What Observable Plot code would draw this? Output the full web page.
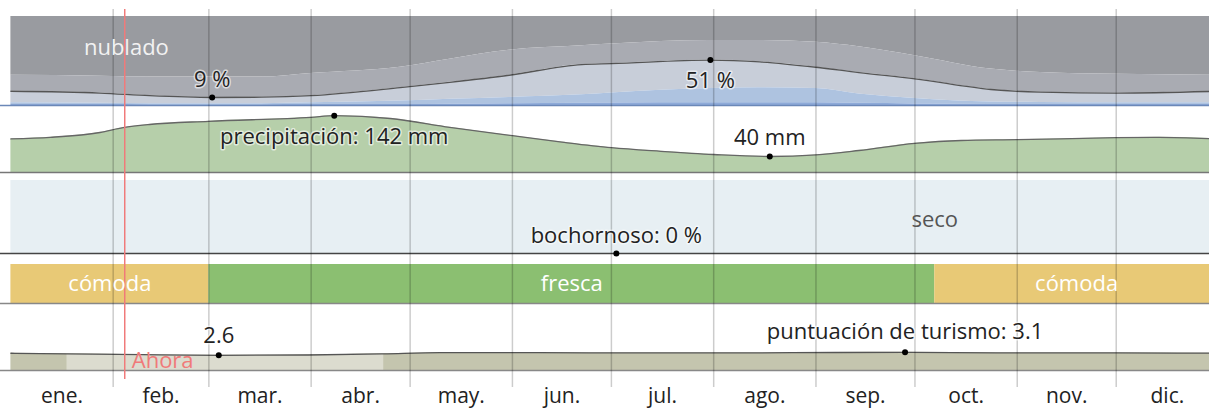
<!DOCTYPE html>
<html>
<head>
<meta charset="utf-8">
<script src="https://cdn.jsdelivr.net/npm/d3@7"></script>
<script src="https://cdn.jsdelivr.net/npm/@observablehq/plot@0.6"></script>
<style>
  html, body { margin: 0; padding: 0; background: #fff; overflow: hidden; }
  #chart svg { display: block; overflow: hidden; }
</style>
</head>
<body>
<div id="chart"></div>
<script>
// ---- month axis (leap year, day-of-year) ----
const monthLabels = ["ene.", "feb.", "mar.", "abr.", "may.", "jun.", "jul.", "ago.", "sep.", "oct.", "nov.", "dic."];
const monthStarts = [0, 31, 60, 91, 121, 152, 182, 213, 244, 274, 305, 335, 366];
const nowDay = 34.5;

// ---- cloud cover, cumulative % from bottom ----
const cloudDays      = [0, 27, 42, 61, 76, 91, 118, 133, 151, 173, 182, 212, 227, 244, 257, 274, 297, 312, 335, 366];
const clearPct       = [1, 1, 0.8, 0.8, 0.8, 1, 1.2, 1.5, 2, 2.5, 2.8, 3, 3, 3, 2.5, 1.8, 1.2, 1, 1, 1];
const mostlyClearPct = [3, 2.5, 2, 2, 2, 3, 5, 7, 9, 12, 14, 19, 20, 19, 13, 8, 4, 3.5, 3, 3];
const partlyPct      = [16, 14, 11, 9, 9.3, 11, 20, 26, 34, 46, 47, 51, 49, 43, 37, 30, 18, 15, 14, 16];
const mostlyCloudyPct= [34, 33, 32, 32, 32, 36, 43, 52, 62, 67, 69, 73, 73, 71, 66, 56, 41, 37, 35, 34];
const cloudMinDay = 61, cloudMinLabel = "9 %";
const cloudMaxDay = 212, cloudMaxLabel = "51 %";

// ---- precipitation (mm) ----
const precipDays = [0, 12, 27, 34, 42, 60, 91, 98, 115, 133, 152, 167, 182, 197, 213, 230, 244, 257, 274, 288, 305, 335, 348, 366];
const precipMm   = [84, 88, 100, 112, 120, 128, 138, 142, 135, 113, 92, 76, 62, 53, 45, 40, 44, 55, 73, 80, 82, 87, 88, 84];
const precipMaxDay = 98, precipMaxLabel = "precipitación: 142 mm";
const precipMinDay = 230, precipMinLabel = "40 mm";

// ---- humidity ----
const muggyPct = 0;
const muggyDay = 183.5, muggyLabel = "bochornoso: 0 %";
const dryLabel = "seco", dryDay = 280;

// ---- comfort ----
const comfortStart = [0, 60, 280];
const comfortEnd   = [60, 280, 366];
const comfortName  = ["cómoda", "fresca", "cómoda"];

// ---- tourism score ----
const tourDays  = [0, 17, 40, 63, 90, 113, 130, 160, 190, 220, 250, 271, 300, 335, 366];
const tourScore = [2.95, 2.85, 2.7, 2.6, 2.65, 2.85, 3.05, 3.05, 3.0, 3.0, 3.08, 3.1, 3.0, 3.0, 2.95];
const tourLowFrom = 17, tourLowTo = 113;
const tourMinDay = 63, tourMinLabel = "2.6";
const tourMaxDay = 271, tourMaxLabel = "puntuación de turismo: 3.1";

// ---- build tables ----
const cloudRows = cloudDays.map((d, i) => ({day: d, clear: clearPct[i], mostlyClear: mostlyClearPct[i], partly: partlyPct[i], mostlyCloudy: mostlyCloudyPct[i]}));
const precipRows = precipDays.map((d, i) => ({day: d, mm: precipMm[i]}));
const comfortRows = comfortName.map((n, i) => ({x1: comfortStart[i], x2: comfortEnd[i], name: n, mid: (comfortStart[i] + comfortEnd[i]) / 2}));
const tourRows = tourDays.map((d, i) => ({day: d, score: tourScore[i]}));
const monthRows = monthLabels.map((m, i) => ({label: m, mid: (monthStarts[i] + monthStarts[i + 1]) / 2}));
const gridDays = monthStarts.slice(1, 12);

const W = 1209;
const X = {domain: [0, 366], range: [10.4, 1218], axis: null};
const FONT = "Open Sans";
const base = (o) => Plot.plot(Object.assign({
  width: W, marginLeft: 0, marginRight: 0,
  x: X,
  style: {fontFamily: FONT, fontSize: "22px", overflow: "hidden", background: "transparent"}
}, o));
const grid = () => Plot.ruleX(gridDays, {stroke: "#000", strokeOpacity: 0.2, strokeWidth: 1.5});
const now = (o = {}) => Plot.ruleX([nowDay], Object.assign({stroke: "#f07a7a", strokeWidth: 1.5}, o));
const txt = "#222";
const curve = "monotone-x";

const p1 = base({
  height: 108, marginTop: 9, marginBottom: 0,
  y: {domain: [0, 100], range: [105, 16], axis: null},
  marks: [
    Plot.areaY(cloudRows, {x: "day", y1: "mostlyCloudy", y2: 100, fill: "#999ba0", curve}),
    Plot.areaY(cloudRows, {x: "day", y1: "partly", y2: "mostlyCloudy", fill: "#a9abb2", curve}),
    Plot.areaY(cloudRows, {x: "day", y1: "mostlyClear", y2: "partly", fill: "#c8ced9", curve}),
    Plot.areaY(cloudRows, {x: "day", y1: "clear", y2: "mostlyClear", fill: "#aec3e0", curve}),
    Plot.areaY(cloudRows, {x: "day", y1: 0, y2: "clear", fill: "#8eaad8", curve}),
    Plot.lineY(cloudRows, {x: "day", y: "partly", stroke: "#555", strokeWidth: 1.3, curve}),
    Plot.ruleY([0], {stroke: "#6b88b8", strokeWidth: 1.5}),
    grid(), now(),
    Plot.dot(cloudRows.filter(d => d.day === cloudMinDay || d.day === cloudMaxDay), {x: "day", y: "partly", r: 3, fill: "#000"}),
    Plot.text([{day: 35, y: 65}], {x: "day", y: "y", text: () => "nublado", fill: "#f2f2f2", fontSize: 22}),
    Plot.text(cloudRows.filter(d => d.day === cloudMinDay), {x: "day", y: "partly", text: () => cloudMinLabel, dy: -18, fill: txt, stroke: "#fff", strokeOpacity: 0.6, strokeWidth: 3, fontSize: 22}),
    Plot.text(cloudRows.filter(d => d.day === cloudMaxDay), {x: "day", y: "partly", text: () => cloudMaxLabel, dy: 21, fill: txt, stroke: "#fff", strokeOpacity: 0.6, strokeWidth: 3, fontSize: 22})
  ]
});

const p2 = base({
  height: 68, marginTop: 0, marginBottom: 0,
  y: {domain: [0, 160], range: [64, 0], axis: null},
  marks: [
    Plot.areaY(precipRows, {x: "day", y: "mm", fill: "#b6cfaa", curve}),
    Plot.lineY(precipRows, {x: "day", y: "mm", stroke: "#666", strokeWidth: 1.3, curve}),
    Plot.ruleY([0], {stroke: "#777", strokeWidth: 1.5}),
    grid(), now(),
    Plot.dot(precipRows.filter(d => d.day === precipMaxDay || d.day === precipMinDay), {x: "day", y: "mm", r: 3, fill: "#000"}),
    Plot.text(precipRows.filter(d => d.day === precipMaxDay), {x: "day", y: "mm", text: () => precipMaxLabel, dy: 21, fill: txt, stroke: "#fff", strokeOpacity: 0.6, strokeWidth: 3, fontSize: 22}),
    Plot.text(precipRows.filter(d => d.day === precipMinDay), {x: "day", y: "mm", text: () => precipMinLabel, dy: -19, fill: txt, stroke: "#fff", strokeOpacity: 0.6, strokeWidth: 3, fontSize: 22})
  ]
});

const p3 = base({
  height: 82, marginTop: 0, marginBottom: 0,
  y: {domain: [0, 100], range: [77, 4], axis: null},
  marks: [
    Plot.rectY([{x1: 0, x2: 366}], {x1: "x1", x2: "x2", y1: 0, y2: 100, fill: "#e7eff3"}),
    Plot.ruleY([muggyPct], {stroke: "#444", strokeWidth: 1.5}),
    grid(), now(),
    Plot.text([{day: dryDay}], {x: "day", y: 46, text: () => dryLabel, fill: "#555", fontSize: 22}),
    Plot.dot([{day: muggyDay, v: muggyPct}], {x: "day", y: "v", r: 3, fill: "#000"}),
    Plot.text([{day: muggyDay, v: muggyPct}], {x: "day", y: "v", text: () => muggyLabel, dy: -18, fill: txt, stroke: "#fff", strokeOpacity: 0.5, strokeWidth: 3, fontSize: 22})
  ]
});

const p4 = base({
  height: 50, marginTop: 0, marginBottom: 0,
  y: {domain: [0, 1], range: [45, 6], axis: null},
  color: {domain: ["cómoda", "fresca"], range: ["#e8c976", "#8bbf71"]},
  marks: [
    Plot.rectY(comfortRows, {x1: "x1", x2: "x2", y1: 0, y2: 1, fill: "name"}),
    Plot.ruleY([0], {stroke: "#888", strokeWidth: 1.5}),
    grid(), now(),
    Plot.text(comfortRows, {x: "mid", y: 0.5, text: "name", fill: "#fff", fontSize: 22})
  ]
});

// tourism band + month labels (bottom strip)
const p5 = base({
  height: 100, marginTop: 0, marginBottom: 21,
  y: {domain: [0, 5], range: [62, 32.75], axis: null},
  marks: [
    Plot.areaY(tourRows, {x: "day", y: "score", fill: "#c4c5ae", curve}),
    Plot.areaY(tourRows.filter(d => d.day >= tourLowFrom && d.day <= tourLowTo), {x: "day", y: "score", fill: "#dcdccf", curve}),
    Plot.lineY(tourRows, {x: "day", y: "score", stroke: "#555", strokeWidth: 1.3, curve}),
    Plot.ruleY([0], {stroke: "#888", strokeWidth: 1.5}),
    grid(), now({insetBottom: 8}),
    Plot.text([{day: nowDay}], {x: "day", y: 0, text: () => "Ahora", dx: 7, dy: -10, textAnchor: "start", fill: "#f07a7a", fontSize: 22}),
    Plot.dot(tourRows.filter(d => d.day === tourMinDay || d.day === tourMaxDay), {x: "day", y: "score", r: 3, fill: "#000"}),
    Plot.text(tourRows.filter(d => d.day === tourMinDay), {x: "day", y: "score", text: () => tourMinLabel, dy: -19, fill: txt, stroke: "#fff", strokeOpacity: 0.6, strokeWidth: 3, fontSize: 22}),
    Plot.text(tourRows.filter(d => d.day === tourMaxDay), {x: "day", y: "score", text: () => tourMaxLabel, dy: -20, fill: txt, stroke: "#fff", strokeOpacity: 0.6, strokeWidth: 3, fontSize: 22}),
    Plot.text(monthRows, {x: "mid", text: "label", frameAnchor: "bottom", lineAnchor: "middle", dy: 8.5, fill: txt, fontSize: 21})
  ]
});

const root = document.getElementById("chart");
[p1, p2, p3, p4, p5].forEach(p => root.appendChild(p));
</script>
</body>
</html>
